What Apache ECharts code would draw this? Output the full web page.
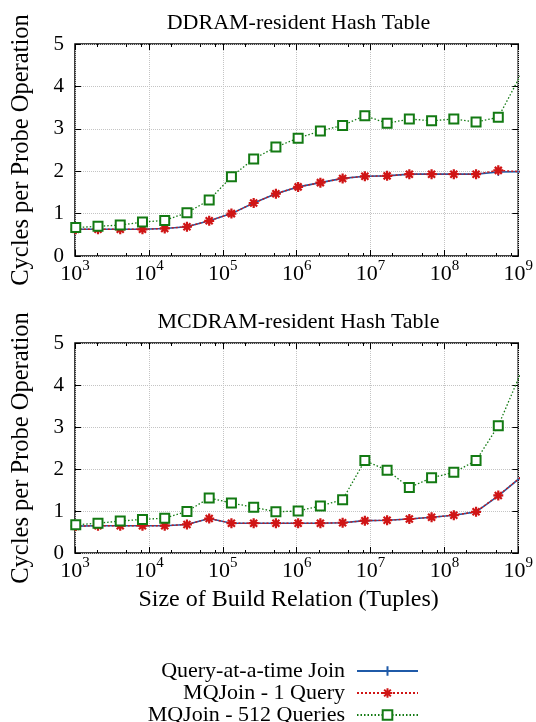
<!DOCTYPE html>
<html>
<head>
<meta charset="utf-8">
<script src="https://cdn.jsdelivr.net/npm/echarts@6/dist/echarts.min.js"></script>
<style>
  html, body { margin: 0; padding: 0; background: #fff; }
  #chart { width: 536px; height: 722px; }
</style>
</head>
<body>
<div id="chart"></div>
<script>
// size of build relation, 2^10 .. 2^30 tuples
const sizes = [1024, 2048, 4096, 8192, 16384, 32768, 65536, 131072, 262144, 524288,
  1048576, 2097152, 4194304, 8388608, 16777216, 33554432, 67108864, 134217728,
  268435456, 536870912, 1073741824];

// DDRAM-resident hash table
const ddramQaat = [0.63, 0.63, 0.63, 0.63, 0.65, 0.69, 0.83, 1.00, 1.25, 1.47, 1.63,
  1.73, 1.83, 1.88, 1.89, 1.93, 1.93, 1.93, 1.93, 1.98, 1.99];
const ddramMq1 = [0.63, 0.63, 0.63, 0.63, 0.65, 0.69, 0.83, 1.00, 1.25, 1.47, 1.63,
  1.73, 1.83, 1.88, 1.89, 1.93, 1.93, 1.93, 1.93, 2.02, 1.99];
const ddramMq512 = [0.67, 0.70, 0.73, 0.80, 0.84, 1.02, 1.32, 1.87, 2.29, 2.57, 2.78,
  2.95, 3.08, 3.31, 3.13, 3.23, 3.19, 3.23, 3.16, 3.27, 4.26];

// MCDRAM-resident hash table
const mcdramQaat = [0.64, 0.65, 0.65, 0.65, 0.65, 0.68, 0.82, 0.71, 0.71, 0.71, 0.71,
  0.71, 0.72, 0.77, 0.78, 0.81, 0.85, 0.90, 0.98, 1.36, 1.80];
const mcdramMq1 = [0.64, 0.65, 0.65, 0.65, 0.65, 0.68, 0.82, 0.71, 0.71, 0.71, 0.71,
  0.71, 0.72, 0.77, 0.78, 0.81, 0.85, 0.90, 0.98, 1.37, 1.80];
const mcdramMq512 = [0.67, 0.71, 0.76, 0.80, 0.83, 0.99, 1.31, 1.19, 1.09, 0.98, 1.00,
  1.12, 1.27, 2.20, 1.97, 1.56, 1.79, 1.92, 2.20, 3.03, 4.27];

const minorTicks = [2e3, 5e3, 8e3, 2e4, 5e4, 8e4, 2e5, 5e5, 8e5, 2e6, 5e6, 8e6,
  2e7, 5e7, 8e7, 2e8, 5e8, 8e8];
const seriesNames = ['Query-at-a-time Join', 'MQJoin - 1 Query', 'MQJoin - 512 Queries'];
const panelTitles = ['DDRAM-resident Hash Table', 'MCDRAM-resident Hash Table'];

const FONT = 'Liberation Serif';
const BLUE = '#1f5aa8';
const RED = '#d01515';
const GREEN = '#137a13';
const PLUS = 'path://M5,0L5,10M0,5L10,5';
const STAR = 'path://M5,0L5,10M0,5L10,5M1.5,1.5L8.5,8.5M8.5,1.5L1.5,8.5';

const grids = [
  { left: 75, top: 44, width: 447, height: 212, show: true, borderColor: '#000', borderWidth: 1.5 },
  { left: 75, top: 343, width: 447, height: 210, show: true, borderColor: '#000', borderWidth: 1.5 }
];

function xAxes(g, withName) {
  const base = {
    gridIndex: g, type: 'log', logBase: 10, min: 1e3, max: 1e9,
    axisLine: { show: false }, splitLine: { show: false }, axisLabel: { show: false },
    axisTick: { inside: true, length: 6, lineStyle: { color: '#000', width: 1 } }
  };
  const minor = { inside: true, length: 3, customValues: minorTicks, lineStyle: { color: '#000', width: 1 } };
  const main = Object.assign({}, base, {
    position: 'bottom',
    splitLine: { show: true, lineStyle: { color: '#c4c4c4', type: 'dotted', width: 1 } },
    axisLabel: {
      show: true, margin: 3,
      formatter: v => '{b|10}{s|' + Math.round(Math.log10(v)) + '}',
      rich: {
        b: { fontFamily: FONT, fontSize: 22, color: '#000', lineHeight: 30 },
        s: { fontFamily: FONT, fontSize: 15, color: '#000', verticalAlign: 'top' }
      }
    }
  });
  if (withName) {
    main.name = 'Size of Build Relation (Tuples)';
    main.nameLocation = 'middle';
    main.nameGap = 35;
    main.nameTextStyle = { fontFamily: FONT, fontSize: 24, color: '#000', padding: [0, 16, 0, 0] };
  }
  return [
    main,
    Object.assign({}, base, { position: 'bottom', axisTick: minor }),
    Object.assign({}, base, { position: 'top' }),
    Object.assign({}, base, { position: 'top', axisTick: minor })
  ];
}

function yAxes(g) {
  const base = {
    gridIndex: g, type: 'value', min: 0, max: 5, interval: 1,
    axisLine: { show: false },
    axisTick: { show: true, inside: true, length: 6, lineStyle: { color: '#000', width: 1 } }
  };
  return [
    Object.assign({}, base, {
      position: 'left',
      name: 'Cycles per Probe Operation', nameLocation: 'middle', nameGap: 41,
      nameTextStyle: { fontFamily: FONT, fontSize: 24.5, color: '#000' },
      splitLine: { show: true, lineStyle: { color: '#c4c4c4', type: 'dotted', width: 1 } },
      axisLabel: { fontFamily: FONT, fontSize: 21, color: '#000', margin: 11 }
    }),
    Object.assign({}, base, { position: 'right', splitLine: { show: false }, axisLabel: { show: false } })
  ];
}

function pairs(vals) {
  return sizes.map((s, i) => [s, vals[i]]);
}

function panelSeries(g, qaat, mq1, mq512) {
  const axes = { xAxisIndex: g * 4, yAxisIndex: g * 2 };
  return [
    Object.assign({
      name: seriesNames[0], type: 'line', data: pairs(qaat),
      symbol: PLUS, symbolSize: 8, color: BLUE,
      lineStyle: { color: BLUE, width: 1.6 },
      itemStyle: { color: BLUE, borderColor: BLUE, borderWidth: 1.3 }
    }, axes),
    Object.assign({
      name: seriesNames[1], type: 'line', data: pairs(mq1),
      symbol: STAR, symbolSize: 10, color: RED,
      lineStyle: { color: RED, width: 1.4, type: [2, 2] },
      itemStyle: { color: RED, borderColor: RED, borderWidth: 2.2 }
    }, axes),
    Object.assign({
      name: seriesNames[2], type: 'line', data: pairs(mq512),
      symbol: 'emptyRect', symbolSize: 9, color: GREEN,
      lineStyle: { color: GREEN, width: 1.3, type: [1.5, 2] },
      itemStyle: { color: GREEN, borderColor: GREEN, borderWidth: 1.4 }
    }, axes)
  ];
}

const chart = echarts.init(document.getElementById('chart'));
chart.setOption({
  backgroundColor: '#fff',
  animation: false,
  title: panelTitles.map((t, i) => ({
    text: t, left: 298.5, top: i === 0 ? 12 : 311, padding: 0, textAlign: 'center',
    textStyle: { fontFamily: FONT, fontSize: 22, fontWeight: 'normal', color: '#000' }
  })),
  legend: {
    data: seriesNames, orient: 'vertical', align: 'right',
    right: 117, top: 660, height: 80, padding: 0, itemGap: 0,
    itemWidth: 61, itemHeight: 12,
    textStyle: { fontFamily: FONT, fontSize: 22, color: '#000', lineHeight: 21.5, padding: [0, 7, 0, 0] }
  },
  grid: grids,
  xAxis: xAxes(0, false).concat(xAxes(1, true)),
  yAxis: yAxes(0).concat(yAxes(1)),
  series: panelSeries(0, ddramQaat, ddramMq1, ddramMq512)
    .concat(panelSeries(1, mcdramQaat, mcdramMq1, mcdramMq512))
});
</script>
</body>
</html>
